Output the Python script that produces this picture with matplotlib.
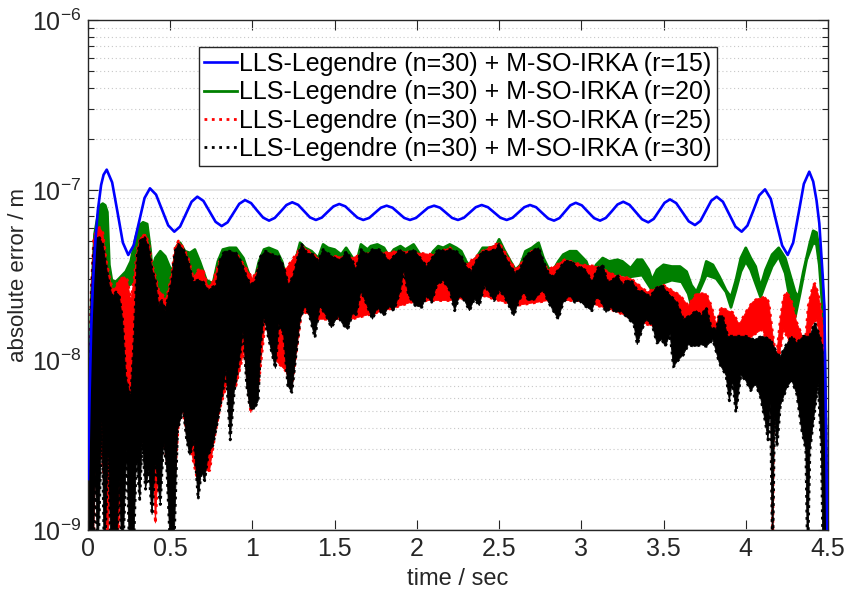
import matplotlib
matplotlib.use("Agg")
import matplotlib.pyplot as plt
import numpy as np
from matplotlib.ticker import LogLocator, NullFormatter

plt.rcParams['font.family'] = ['Liberation Sans', 'DejaVu Sans']
plt.rcParams['mathtext.fontset'] = 'custom'
plt.rcParams['mathtext.rm'] = 'Liberation Sans'
plt.rcParams['mathtext.it'] = 'Liberation Sans:italic'

# all values: (time in s, log10 of absolute error in m)
# r=15 : smooth oscillating curve
blue_r15 = [
    (0.000, -8.70), (0.010, -8.20), (0.020, -7.80), (0.030, -7.55), (0.045, -7.30), (0.060, -7.12),
    (0.080, -6.97), (0.095, -6.91), (0.114, -6.88),
    (0.147, -6.955), (0.180, -7.132), (0.212, -7.309), (0.245, -7.382),
    (0.278, -7.325), (0.311, -7.186), (0.344, -7.047), (0.377, -6.99),
    (0.414, -7.027), (0.451, -7.118), (0.488, -7.208), (0.525, -7.245),
    (0.560, -7.215), (0.595, -7.142), (0.630, -7.069), (0.665, -7.039),
    (0.702, -7.064), (0.739, -7.126), (0.776, -7.187), (0.813, -7.212),
    (0.849, -7.19), (0.884, -7.136), (0.920, -7.081), (0.955, -7.059),
    (0.992, -7.077), (1.028, -7.12), (1.065, -7.162), (1.101, -7.18),
    (1.136, -7.164), (1.172, -7.126), (1.207, -7.088), (1.242, -7.072),
    (1.278, -7.087), (1.314, -7.124), (1.350, -7.161), (1.386, -7.176),
    (1.422, -7.162), (1.457, -7.129), (1.493, -7.096), (1.528, -7.082),
    (1.565, -7.096), (1.601, -7.129), (1.638, -7.162), (1.674, -7.176),
    (1.710, -7.164), (1.745, -7.134), (1.781, -7.104), (1.816, -7.092),
    (1.852, -7.104), (1.887, -7.134), (1.923, -7.164), (1.958, -7.176),
    (1.995, -7.164), (2.032, -7.134), (2.068, -7.104), (2.105, -7.092),
    (2.141, -7.104), (2.178, -7.134), (2.214, -7.164), (2.250, -7.176),
    (2.286, -7.163), (2.322, -7.132), (2.358, -7.101), (2.394, -7.088),
    (2.432, -7.101), (2.470, -7.132), (2.508, -7.163), (2.546, -7.176),
    (2.582, -7.163), (2.617, -7.132), (2.653, -7.101), (2.688, -7.088),
    (2.725, -7.101), (2.761, -7.134), (2.798, -7.167), (2.834, -7.18),
    (2.867, -7.165), (2.900, -7.128), (2.933, -7.09), (2.966, -7.075),
    (3.003, -7.09), (3.040, -7.128), (3.077, -7.165), (3.114, -7.18),
    (3.149, -7.164), (3.185, -7.125), (3.220, -7.085), (3.255, -7.069),
    (3.293, -7.087), (3.331, -7.13), (3.369, -7.172), (3.407, -7.19),
    (3.440, -7.17), (3.473, -7.123), (3.506, -7.075), (3.539, -7.055),
    (3.577, -7.077), (3.615, -7.131), (3.653, -7.184), (3.691, -7.206),
    (3.724, -7.182), (3.757, -7.123), (3.790, -7.063), (3.823, -7.039),
    (3.861, -7.069), (3.899, -7.142), (3.937, -7.215), (3.975, -7.245),
    (4.010, -7.209), (4.046, -7.121), (4.081, -7.032), (4.117, -6.996),
    (4.152, -7.052), (4.186, -7.189), (4.221, -7.326), (4.255, -7.382),
    (4.288, -7.31), (4.321, -7.137), (4.353, -6.964), (4.386, -6.892),
    (4.410, -6.95), (4.430, -7.06), (4.447, -7.196), (4.468, -7.51), (4.478, -7.686),
    (4.488, -8.4), (4.500, -9.3),
]

# r=20 : noisy band, upper and lower edge
green_hi = [
    (0.000, -9.30), (0.008, -8.24), (0.02, -7.65), (0.04, -7.26), (0.06, -7.15), (0.075, -7.09),
    (0.09, -7.08), (0.105, -7.09), (0.118, -7.13), (0.13, -7.44), (0.145, -7.53), (0.17, -7.54),
    (0.20, -7.51), (0.23, -7.48), (0.26, -7.42), (0.29, -7.28), (0.31, -7.21), (0.335, -7.19),
    (0.36, -7.20), (0.38, -7.35), (0.39, -7.47), (0.41, -7.40), (0.44, -7.36), (0.47, -7.39),
    (0.50, -7.46), (0.515, -7.47), (0.54, -7.33), (0.56, -7.31), (0.59, -7.36), (0.62, -7.37),
    (0.65, -7.35), (0.68, -7.42), (0.72, -7.53), (0.76, -7.55), (0.79, -7.42), (0.82, -7.35),
    (0.86, -7.34), (0.90, -7.34), (0.945, -7.40), (0.97, -7.47), (1.005, -7.56), (1.04, -7.42),
    (1.07, -7.35), (1.10, -7.34), (1.15, -7.36), (1.18, -7.42), (1.21, -7.53), (1.23, -7.52),
    (1.26, -7.42), (1.29, -7.31), (1.32, -7.34), (1.36, -7.36), (1.40, -7.40), (1.43, -7.32),
    (1.46, -7.34), (1.50, -7.35), (1.54, -7.38), (1.57, -7.34), (1.61, -7.40), (1.63, -7.44),
    (1.66, -7.32), (1.70, -7.35), (1.72, -7.33), (1.76, -7.32), (1.80, -7.34), (1.83, -7.39),
    (1.86, -7.35), (1.90, -7.33), (1.93, -7.35), (1.98, -7.32), (2.02, -7.38), (2.06, -7.42),
    (2.10, -7.36), (2.13, -7.33), (2.16, -7.34), (2.20, -7.32), (2.24, -7.34), (2.27, -7.36),
    (2.30, -7.42), (2.33, -7.46), (2.36, -7.40), (2.40, -7.34), (2.44, -7.34), (2.48, -7.33),
    (2.50, -7.29), (2.53, -7.35), (2.57, -7.42), (2.60, -7.47), (2.63, -7.44), (2.66, -7.36),
    (2.70, -7.34), (2.74, -7.31), (2.77, -7.40), (2.80, -7.46), (2.83, -7.47), (2.86, -7.42),
    (2.89, -7.38), (2.93, -7.36), (2.97, -7.36), (3.00, -7.39), (3.03, -7.42), (3.06, -7.50),
    (3.09, -7.44), (3.13, -7.40), (3.17, -7.42), (3.22, -7.41), (3.25, -7.42), (3.30, -7.46),
    (3.34, -7.41), (3.37, -7.41), (3.41, -7.47), (3.43, -7.53), (3.46, -7.47), (3.50, -7.44),
    (3.55, -7.45), (3.60, -7.45), (3.64, -7.48), (3.67, -7.56), (3.70, -7.60), (3.73, -7.53),
    (3.76, -7.42), (3.80, -7.44), (3.84, -7.51), (3.88, -7.59), (3.91, -7.63), (3.94, -7.53),
    (3.97, -7.40), (4.00, -7.34), (4.03, -7.40), (4.06, -7.45), (4.09, -7.57), (4.12, -7.47),
    (4.16, -7.38), (4.20, -7.34), (4.24, -7.40), (4.27, -7.50), (4.30, -7.60), (4.32, -7.63),
    (4.35, -7.48), (4.39, -7.31), (4.41, -7.24), (4.43, -7.25), (4.447, -7.35), (4.46, -7.47),
    (4.475, -7.69), (4.485, -8.24), (4.495, -9.00), (4.50, -9.30),
]
green_lo = [
    (0.000, -9.30), (0.01, -8.71), (0.03, -7.82), (0.06, -7.65), (0.10, -7.65), (0.13, -7.82),
    (0.15, -8.53), (0.17, -7.82), (0.20, -7.56), (0.25, -7.56), (0.30, -7.53), (0.35, -7.59),
    (0.40, -7.65), (0.50, -7.65), (0.60, -7.59), (0.70, -7.65), (0.80, -7.65), (1.00, -7.65),
    (1.50, -7.59), (2.00, -7.56), (2.50, -7.59), (2.86, -7.53), (2.92, -7.46), (3.00, -7.45),
    (3.065, -7.53), (3.13, -7.47), (3.19, -7.49), (3.25, -7.50), (3.30, -7.51), (3.37, -7.50),
    (3.43, -7.59), (3.49, -7.55), (3.55, -7.53), (3.61, -7.54), (3.65, -7.61), (3.68, -7.72),
    (3.71, -7.61), (3.76, -7.50), (3.82, -7.52), (3.88, -7.60), (3.91, -7.69), (3.94, -7.59),
    (3.97, -7.48), (4.00, -7.42), (4.03, -7.47), (4.06, -7.55), (4.09, -7.63), (4.12, -7.55),
    (4.16, -7.45), (4.20, -7.39), (4.24, -7.49), (4.27, -7.65), (4.30, -7.75), (4.33, -7.61),
    (4.37, -7.41), (4.41, -7.31), (4.43, -7.32), (4.447, -7.44), (4.46, -7.61), (4.475, -7.82),
    (4.485, -8.53), (4.495, -9.00), (4.50, -9.30),
]

# r=25
red_hi = [
    (0.000, -9.30), (0.006, -8.41), (0.02, -7.59), (0.035, -7.29), (0.05, -7.24), (0.07, -7.22),
    (0.09, -7.25), (0.11, -7.41), (0.13, -7.51), (0.15, -7.59), (0.17, -7.57), (0.19, -7.53),
    (0.22, -7.51), (0.24, -7.53), (0.26, -7.65), (0.28, -7.53), (0.30, -7.35), (0.32, -7.28),
    (0.35, -7.26), (0.37, -7.32), (0.39, -7.44), (0.41, -7.51), (0.43, -7.59), (0.45, -7.61),
    (0.47, -7.65), (0.49, -7.59), (0.51, -7.49), (0.53, -7.34), (0.55, -7.30), (0.58, -7.34),
    (0.61, -7.40), (0.64, -7.52), (0.67, -7.47), (0.70, -7.47), (0.73, -7.57), (0.76, -7.54),
    (0.80, -7.42), (0.90, -7.37), (1.00, -7.52), (1.10, -7.37), (1.20, -7.47), (1.30, -7.33),
    (1.40, -7.40), (1.50, -7.39), (1.60, -7.40), (1.70, -7.37), (1.80, -7.37), (1.90, -7.36),
    (2.00, -7.37), (2.10, -7.38), (2.20, -7.34), (2.30, -7.44), (2.40, -7.36), (2.50, -7.31),
    (2.60, -7.47), (2.70, -7.36), (2.80, -7.47), (2.90, -7.41), (3.00, -7.44), (3.10, -7.45),
    (3.20, -7.50), (3.30, -7.52), (3.40, -7.60), (3.50, -7.56), (3.60, -7.62), (3.65, -7.68),
    (3.70, -7.61), (3.76, -7.61), (3.79, -7.68), (3.82, -7.79), (3.85, -7.69), (3.89, -7.71),
    (3.92, -7.72), (3.96, -7.79), (4.00, -7.72), (4.04, -7.66), (4.07, -7.64), (4.12, -7.63),
    (4.14, -7.66), (4.16, -7.82), (4.185, -8.00), (4.21, -7.76), (4.23, -7.63), (4.25, -7.60),
    (4.28, -7.66), (4.31, -7.78), (4.34, -7.85), (4.36, -7.92), (4.38, -7.68), (4.41, -7.56),
    (4.42, -7.55), (4.44, -7.61), (4.46, -7.72), (4.475, -7.88), (4.485, -8.35), (4.495, -9.00),
    (4.50, -9.30),
]
red_lo = [
    (0.000, -9.30), (0.03, -9.20), (0.05, -8.47), (0.065, -8.35), (0.08, -8.53), (0.10, -8.71),
    (0.12, -9.20), (0.14, -8.41), (0.16, -8.35), (0.18, -9.20), (0.20, -8.65), (0.22, -8.47),
    (0.25, -8.41), (0.27, -8.59), (0.30, -8.35), (0.33, -8.47), (0.36, -8.59), (0.40, -8.65),
    (0.41, -8.96), (0.43, -8.59), (0.46, -8.47), (0.50, -8.71), (0.53, -8.65), (0.56, -8.24),
    (0.60, -8.41), (0.64, -8.59), (0.66, -8.68), (0.70, -8.65), (0.74, -8.65), (0.77, -8.45),
    (0.80, -8.29), (0.85, -8.12), (0.90, -8.15), (0.95, -7.94), (0.99, -8.31), (1.04, -8.12),
    (1.08, -7.76), (1.14, -8.00), (1.20, -8.06), (1.24, -8.15), (1.30, -7.71), (1.40, -7.76),
    (1.60, -7.76), (1.80, -7.71), (2.00, -7.65), (2.20, -7.65), (2.40, -7.62), (2.60, -7.68),
    (2.80, -7.65), (3.00, -7.65), (3.20, -7.71), (3.40, -7.79), (3.60, -7.85), (3.70, -7.79),
    (3.76, -7.82), (3.80, -7.86), (3.85, -7.88), (3.90, -7.86), (3.95, -7.91), (4.00, -7.90),
    (4.05, -7.85), (4.10, -7.82), (4.14, -7.91), (4.16, -8.12), (4.163, -9.20), (4.17, -8.12),
    (4.20, -8.00), (4.23, -7.82), (4.26, -7.88), (4.30, -7.98), (4.34, -8.12), (4.37, -8.00),
    (4.40, -7.80), (4.43, -7.76), (4.45, -7.86), (4.47, -8.12), (4.48, -9.20), (4.50, -9.30),
]

# r=30
black_hi = [
    (0.000, -9.30), (0.006, -8.53), (0.02, -7.65), (0.035, -7.35), (0.05, -7.28), (0.07, -7.28),
    (0.09, -7.32), (0.11, -7.44), (0.13, -7.56), (0.15, -7.63), (0.17, -7.60), (0.19, -7.62),
    (0.21, -7.76), (0.23, -8.10), (0.26, -8.22), (0.28, -7.88), (0.30, -7.38), (0.32, -7.29),
    (0.345, -7.28),
    (0.37, -7.34), (0.39, -7.47), (0.41, -7.53), (0.43, -7.68), (0.45, -7.65), (0.47, -7.71),
    (0.49, -7.62), (0.51, -7.53), (0.53, -7.36), (0.55, -7.32), (0.58, -7.35), (0.61, -7.42),
    (0.64, -7.54), (0.67, -7.53), (0.70, -7.54), (0.73, -7.59), (0.76, -7.57), (0.78, -7.56),
    (0.80, -7.42), (0.83, -7.36), (0.86, -7.36), (0.90, -7.37), (0.93, -7.42), (0.96, -7.50),
    (0.99, -7.56), (1.02, -7.53), (1.05, -7.39), (1.08, -7.36), (1.12, -7.38), (1.16, -7.39),
    (1.19, -7.45), (1.22, -7.56), (1.25, -7.50), (1.28, -7.38), (1.30, -7.32), (1.33, -7.37),
    (1.37, -7.38), (1.40, -7.42), (1.43, -7.35), (1.47, -7.38), (1.50, -7.40), (1.54, -7.41),
    (1.57, -7.36), (1.61, -7.42), (1.63, -7.47), (1.66, -7.35), (1.70, -7.38), (1.73, -7.35),
    (1.77, -7.35), (1.80, -7.38), (1.83, -7.42), (1.86, -7.39), (1.90, -7.35), (1.93, -7.38),
    (1.98, -7.35), (2.02, -7.40), (2.06, -7.45), (2.10, -7.39), (2.13, -7.35), (2.17, -7.36),
    (2.20, -7.35), (2.24, -7.36), (2.27, -7.39), (2.30, -7.45), (2.33, -7.48), (2.36, -7.42),
    (2.40, -7.36), (2.44, -7.36), (2.48, -7.35), (2.50, -7.32), (2.53, -7.38), (2.57, -7.45),
    (2.60, -7.49), (2.63, -7.46), (2.66, -7.39), (2.70, -7.36), (2.74, -7.34), (2.77, -7.42),
    (2.80, -7.49), (2.83, -7.51), (2.86, -7.47), (2.90, -7.42), (2.94, -7.42), (2.98, -7.46),
    (3.00, -7.45), (3.03, -7.48), (3.065, -7.54), (3.10, -7.46), (3.13, -7.44), (3.16, -7.54),
    (3.19, -7.53), (3.22, -7.50), (3.25, -7.56), (3.28, -7.53), (3.31, -7.54), (3.34, -7.59),
    (3.38, -7.60), (3.42, -7.63), (3.45, -7.58), (3.49, -7.56), (3.52, -7.60), (3.55, -7.63),
    (3.58, -7.66), (3.62, -7.76), (3.66, -7.74), (3.70, -7.71), (3.73, -7.74), (3.76, -7.69),
    (3.79, -7.81), (3.82, -7.82), (3.84, -7.74), (3.86, -7.74), (3.89, -7.86), (3.95, -7.86),
    (4.00, -7.86), (4.05, -7.88), (4.10, -7.86), (4.15, -7.88), (4.19, -7.96), (4.21, -7.98),
    (4.24, -7.92), (4.28, -7.86), (4.31, -7.90), (4.35, -7.86), (4.39, -7.86), (4.42, -7.78),
    (4.45, -7.86), (4.47, -7.94), (4.485, -8.24), (4.495, -9.00), (4.50, -9.30),
]
black_lo = [
    (0.000, -9.30), (0.030, -9.20), (0.045, -8.65), (0.06, -9.20), (0.085, -8.35), (0.10, -9.20),
    (0.125, -8.47), (0.14, -9.20), (0.17, -9.20), (0.19, -8.71), (0.21, -9.20), (0.235, -8.53),
    (0.255, -9.20), (0.275, -9.20), (0.295, -8.56), (0.315, -8.82), (0.33, -8.47), (0.35, -8.76),
    (0.37, -8.65), (0.39, -8.91), (0.41, -8.59), (0.44, -8.85), (0.46, -8.47), (0.48, -8.65),
    (0.505, -9.20), (0.52, -9.20), (0.545, -8.41), (0.58, -8.29), (0.60, -8.47), (0.62, -8.56),
    (0.645, -8.47), (0.67, -8.82), (0.69, -8.65), (0.71, -8.71), (0.73, -8.56), (0.76, -8.50),
    (0.79, -8.35), (0.81, -8.24), (0.84, -8.06), (0.865, -8.47), (0.89, -8.18), (0.92, -8.00),
    (0.945, -7.82), (0.965, -8.15), (0.985, -8.28), (1.01, -8.29), (1.035, -8.24), (1.05, -7.91),
    (1.07, -7.74), (1.10, -7.88), (1.14, -8.05), (1.16, -7.79), (1.19, -7.85), (1.215, -8.15),
    (1.24, -8.19), (1.265, -7.97), (1.29, -7.76), (1.32, -7.68), (1.35, -7.75), (1.38, -7.87),
    (1.41, -7.68), (1.45, -7.74), (1.48, -7.81), (1.52, -7.74), (1.55, -7.79), (1.58, -7.82),
    (1.61, -7.72), (1.63, -7.74), (1.66, -7.59), (1.69, -7.66), (1.73, -7.76), (1.76, -7.69),
    (1.80, -7.74), (1.83, -7.68), (1.86, -7.71), (1.90, -7.59), (1.92, -7.47), (1.95, -7.62),
    (1.99, -7.68), (2.03, -7.69), (2.06, -7.62), (2.09, -7.66), (2.12, -7.56), (2.16, -7.53),
    (2.20, -7.59), (2.23, -7.71), (2.26, -7.62), (2.29, -7.65), (2.32, -7.71), (2.35, -7.64),
    (2.38, -7.68), (2.41, -7.56), (2.44, -7.60), (2.47, -7.65), (2.50, -7.59), (2.53, -7.62),
    (2.56, -7.68), (2.59, -7.74), (2.62, -7.65), (2.65, -7.60), (2.68, -7.65), (2.72, -7.64),
    (2.74, -7.61), (2.77, -7.59), (2.80, -7.66), (2.83, -7.71), (2.86, -7.76), (2.89, -7.66),
    (2.93, -7.62), (2.96, -7.66), (2.99, -7.65), (3.02, -7.68), (3.065, -7.71), (3.09, -7.63),
    (3.12, -7.65), (3.15, -7.72), (3.18, -7.69), (3.21, -7.72), (3.24, -7.71), (3.28, -7.75),
    (3.32, -7.79), (3.34, -7.91), (3.36, -7.85), (3.39, -7.76), (3.43, -7.79), (3.46, -7.90),
    (3.49, -7.88), (3.51, -7.92), (3.54, -7.85), (3.56, -8.04), (3.59, -8.00), (3.62, -7.97),
    (3.65, -7.91), (3.69, -7.92), (3.73, -7.91), (3.76, -7.92), (3.80, -7.88), (3.84, -8.02),
    (3.88, -8.09), (3.90, -8.24), (3.92, -8.12), (3.94, -8.31), (3.97, -8.09), (4.00, -8.12),
    (4.03, -8.18), (4.06, -8.14), (4.09, -8.22), (4.12, -8.37), (4.135, -8.47), (4.15, -8.25),
    (4.163, -9.20), (4.175, -8.32), (4.19, -8.51), (4.21, -8.27), (4.25, -8.16), (4.28, -8.12),
    (4.31, -8.20), (4.34, -8.41), (4.365, -8.53), (4.376, -9.20), (4.39, -8.53), (4.42, -8.29),
    (4.44, -8.14), (4.46, -8.53), (4.47, -9.20), (4.50, -9.30),
]

x_ticks = [0, 0.5, 1, 1.5, 2, 2.5, 3, 3.5, 4, 4.5]
x_tick_labels = ['0', '0.5', '1', '1.5', '2', '2.5', '3', '3.5', '4', '4.5']

labels = ['LLS-Legendre (n=30) + M-SO-IRKA (r=15)',
          'LLS-Legendre (n=30) + M-SO-IRKA (r=20)',
          'LLS-Legendre (n=30) + M-SO-IRKA (r=25)',
          'LLS-Legendre (n=30) + M-SO-IRKA (r=30)']

fig = plt.figure(figsize=(8.45, 5.95), dpi=100)
ax = fig.add_axes([0.1041, 0.1092, 0.8758, 0.8571])


def draw_band(upper, lower, color, ls, label):
    tu, vu = np.array(upper).T
    tl, vl = np.array(lower).T
    xs = np.concatenate([tu, tl[::-1]])
    ys = 10.0 ** np.concatenate([vu, vl[::-1]])
    ax.fill(xs, ys, color=color, lw=0.6, zorder=2)
    line, = ax.plot(tu, 10.0 ** vu, color=color, ls=ls, lw=2, label=label, zorder=2)
    ax.plot(tl, 10.0 ** vl, color=color, ls=ls, lw=2, zorder=2)
    return line


tb, vb = np.array(blue_r15).T
h_blue, = ax.plot(tb, 10.0 ** vb, color=(0, 0, 1), lw=1.9, label=labels[0], zorder=3)
h_green = draw_band(green_hi, green_lo, (0, 0.5, 0), '-', labels[1])
h_red = draw_band(red_hi, red_lo, (1, 0, 0), ':', labels[2])
h_black = draw_band(black_hi, black_lo, (0, 0, 0), ':', labels[3])

ax.set_yscale('log')
ax.set_xlim(0, 4.5)
ax.set_ylim(1e-9, 1e-6)
ax.set_xticks(x_ticks)
ax.set_xticklabels(x_tick_labels)
ax.yaxis.set_major_locator(LogLocator(base=10, numticks=10))
ax.yaxis.set_minor_locator(LogLocator(base=10, subs=np.arange(2, 10), numticks=20))
ax.yaxis.set_minor_formatter(NullFormatter())

ax.grid(True, which='major', axis='y', color='#e3e3e3', lw=1.2, ls='-', zorder=0)
ax.grid(True, which='minor', axis='y', color='#c8c8c8', lw=0.8, ls=(0, (1, 2.5)), zorder=0)
ax.set_axisbelow(True)

ax.tick_params(which='both', direction='in', top=True, right=True, labelsize=18, colors='#262626')
ax.tick_params(which='major', length=7, width=0.8, pad=5)
ax.tick_params(which='minor', length=4, width=0.8)
for s in ax.spines.values():
    s.set_color('#262626')
    s.set_linewidth(1.0)

ax.set_xlabel('time / sec', fontsize=17, color='#262626', labelpad=5)
ax.set_ylabel('absolute error / m', fontsize=16, color='#262626', labelpad=2)

leg = ax.legend(handles=[h_blue, h_green, h_red, h_black], loc='upper center',
                bbox_to_anchor=(0.5, 1 - 27 / 510), fontsize=18, frameon=True, fancybox=False,
                edgecolor='#262626', framealpha=1, borderpad=0.2, labelspacing=0.17,
                handlelength=1.3, handletextpad=0.1, borderaxespad=0)
leg.get_frame().set_linewidth(1.0)

fig.savefig('out.png', dpi=100)
